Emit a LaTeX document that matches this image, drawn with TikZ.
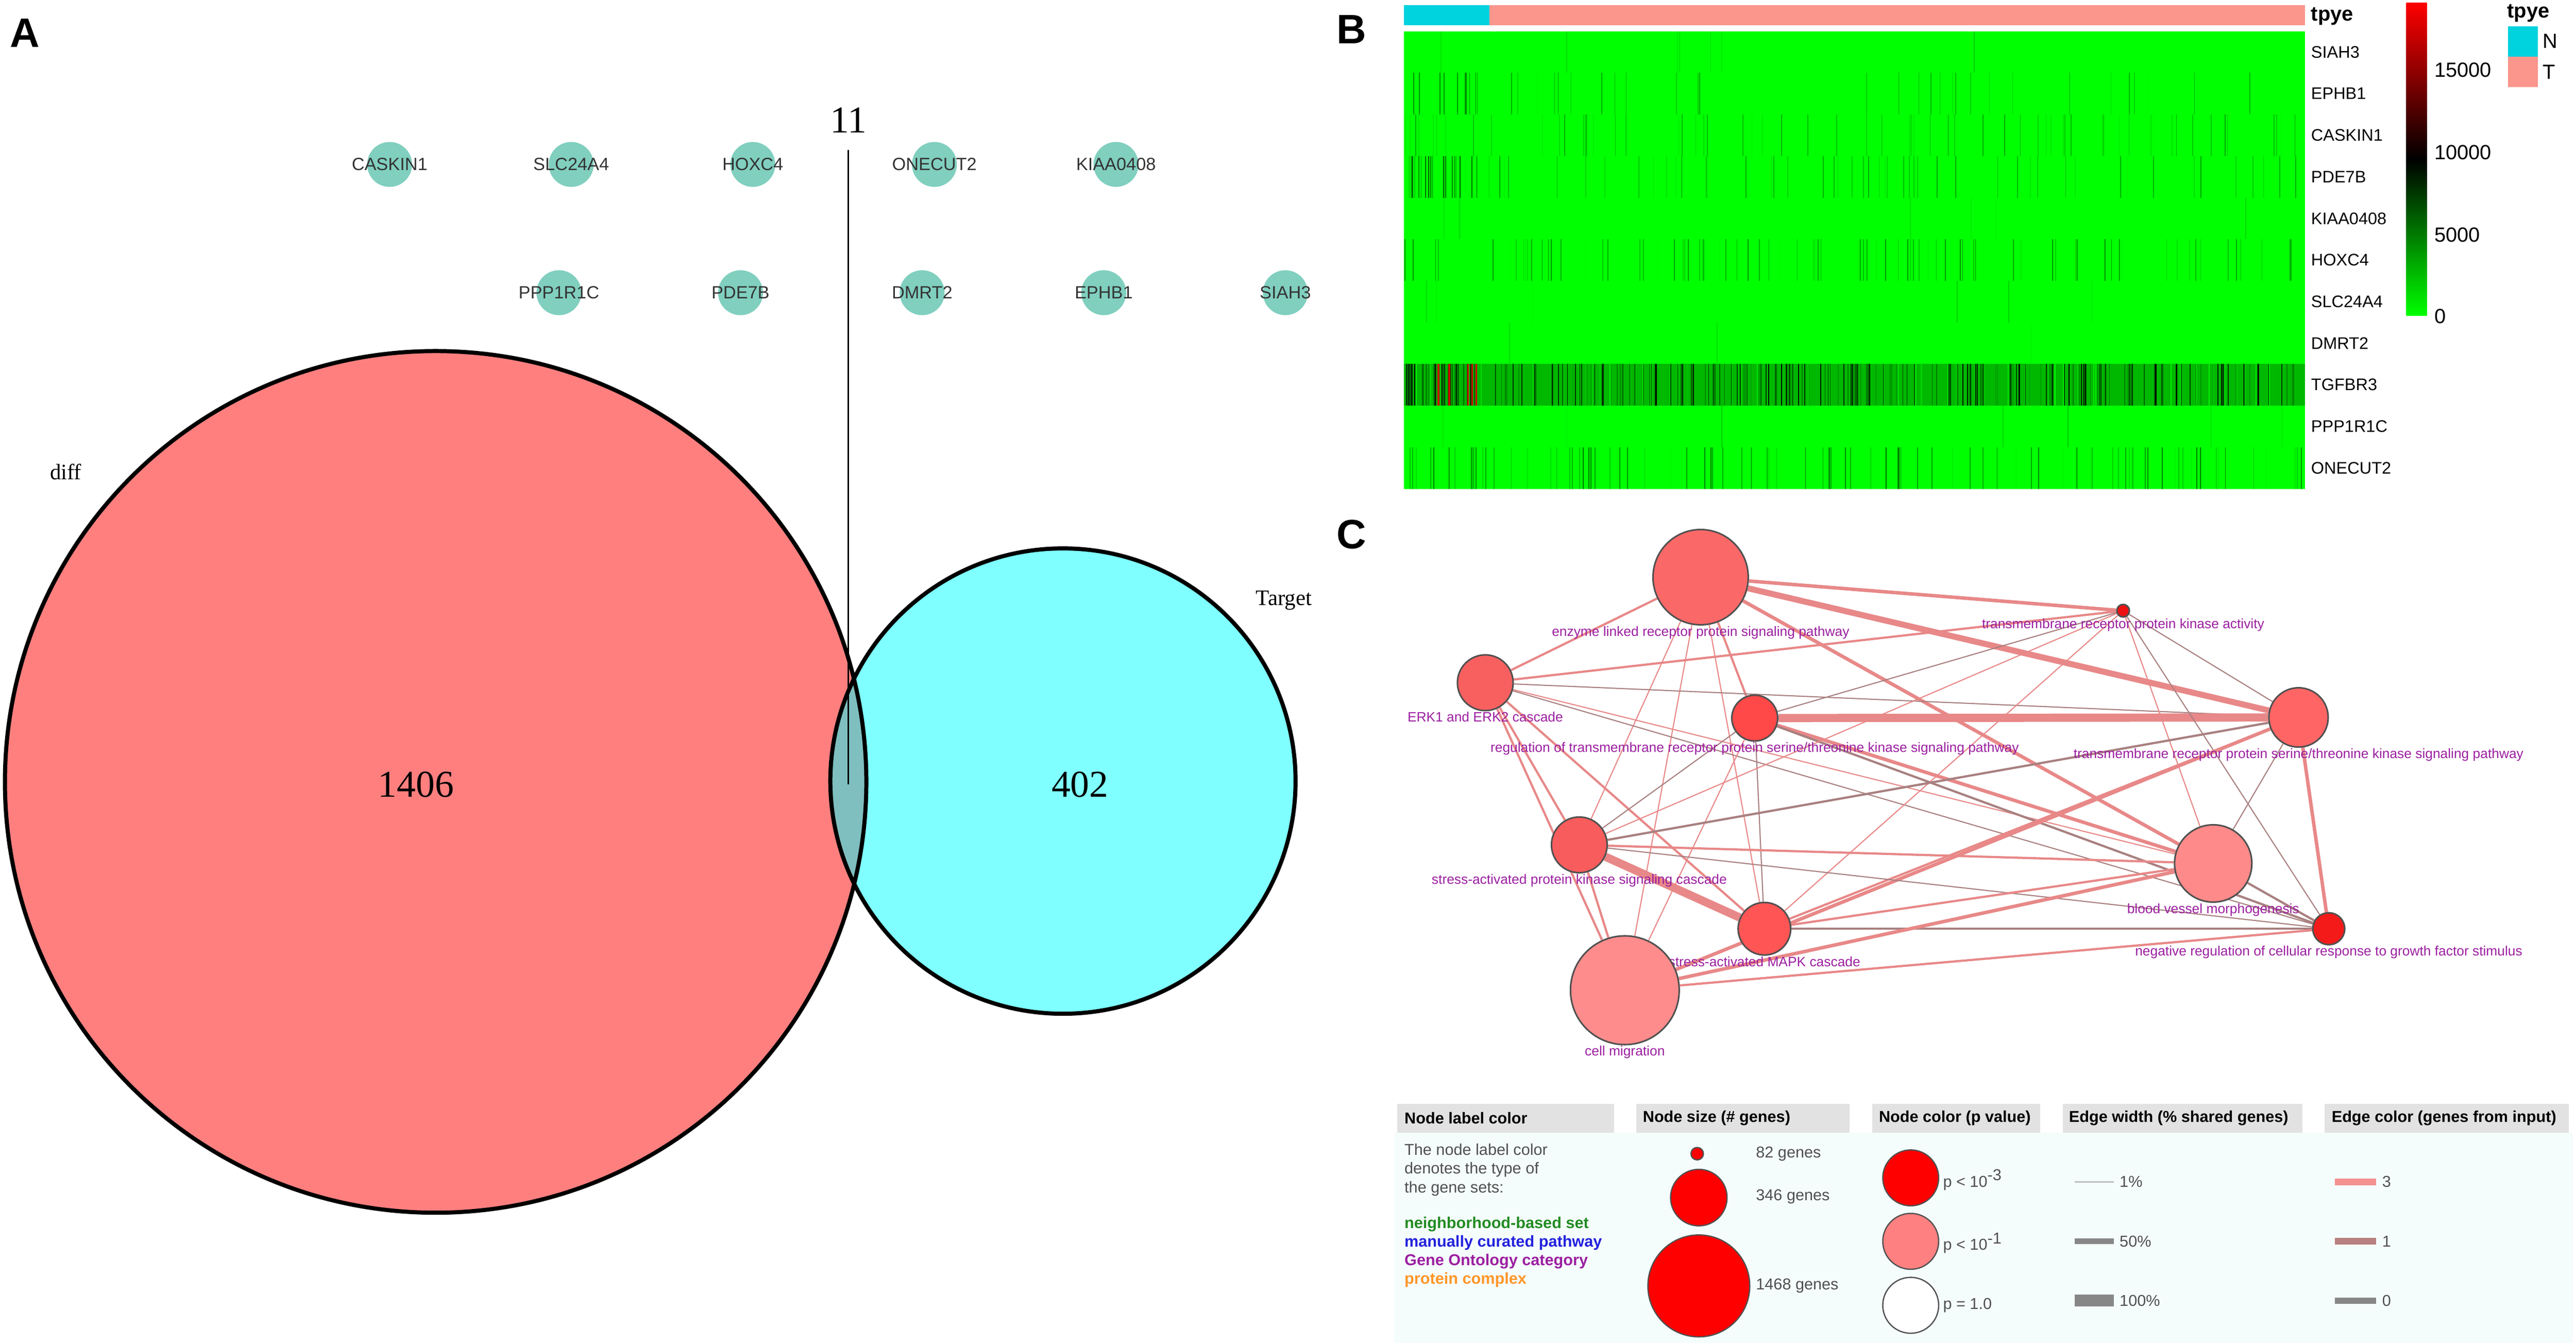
\documentclass[tikz,border=0pt]{standalone}
\usepackage{fontspec}
\setmainfont{Liberation Sans}
\newfontfamily\vennfont{Liberation Serif}
\usetikzlibrary{positioning, backgrounds}

\definecolor{genegreen}{HTML}{80CFBF}
\definecolor{vennred}{HTML}{FF0000}
\definecolor{venncyan}{HTML}{00FFFF}
\definecolor{hmgreen}{HTML}{00FF00}
\definecolor{hmred}{HTML}{FF0000}
\definecolor{ncyan}{HTML}{00D2DE}
\definecolor{tsalmon}{HTML}{FA968C}
\definecolor{gopurple}{HTML}{9B1FA0}
\definecolor{edgepink}{HTML}{E88888}
\definecolor{edgemauve}{HTML}{A98080}
\definecolor{nodeborder}{HTML}{505050}
\definecolor{hdrgray}{HTML}{E2E2E2}
\definecolor{legendbg}{HTML}{F5FCFC}
\definecolor{lgtext}{HTML}{505050}
\definecolor{fenz}{HTML}{FA6868}
\definecolor{ftmk}{HTML}{EE1111}
\definecolor{ferk}{HTML}{F86060}
\definecolor{freg}{HTML}{FF4848}
\definecolor{ftms}{HTML}{FF6565}
\definecolor{fsapk}{HTML}{F85C5C}
\definecolor{fbvm}{HTML}{FF8A8A}
\definecolor{fneg}{HTML}{F41A1A}
\definecolor{fmapk}{HTML}{FF5555}
\definecolor{fmig}{HTML}{FF8C8C}
\definecolor{nbgreen}{HTML}{228B22}
\definecolor{mcblue}{HTML}{2222DD}
\definecolor{pcorange}{HTML}{FF9628}
\definecolor{plight}{HTML}{FF8080}
\definecolor{barpink}{HTML}{F49090}
\definecolor{barmauve}{HTML}{B88080}

\tikzset{
panel/.style={font=\fontsize{13}{13}\selectfont\bfseries}, % the A, B, C letters
node distance=2.021cm, % spacing of the gene dots in a row
gene/.style={circle, fill=genegreen, minimum size=0.5cm, inner sep=0pt}, % teal gene dots
genetext/.style={font=\fontsize{5.6}{6}\selectfont, text=black!80, inner sep=0pt},
vennlbl/.style={font=\vennfont\fontsize{7}{7}\selectfont},
vennnum/.style={font=\vennfont\fontsize{12}{12}\selectfont},
stripe/.style={line width=0.28pt}, % one sample in the heatmap
rowlbl/.style={font=\fontsize{5.3}{6}\selectfont, anchor=west, inner sep=0pt},
hmtext/.style={font=\fontsize{6.5}{7}\selectfont, inner sep=0pt},
gonode/.style={circle, draw=nodeborder, line width=.5pt, inner sep=0pt, label distance=1pt},
golbl/.style={font=\fontsize{4.3}{4.5}\selectfont, text=gopurple, inner sep=0pt},
pk/.style={draw=edgepink}, % edge colour, 3 genes
mv/.style={draw=edgemauve}, % edge colour, 1 gene
w1/.style={line width=.35pt},
w2/.style={line width=.7pt},
w3/.style={line width=1.1pt},
w4/.style={line width=1.9pt},
w5/.style={line width=2.6pt},
hdr/.style={font=\fontsize{5}{6}\selectfont\bfseries, anchor=west, inner sep=0pt},
lgtxt/.style={font=\fontsize{5}{5.9}\selectfont, text=lgtext, anchor=west, inner sep=0pt, align=left},
lgcat/.style={font=\fontsize{5}{6}\selectfont\bfseries, anchor=west, inner sep=0pt},
lgnode/.style={circle, draw=nodeborder, line width=.4pt, inner sep=0pt, fill=red},
}

\begin{document}
\begin{tikzpicture}[x=0.01829cm, y=-0.01829cm]
\useasboundingbox (0,0) rectangle (1567,816.6);

% panel letters
\node[panel] (pA) at (15,20) {A};
\node[panel] (pB) at (822,18) {B};
\node[panel] (pC) at (822,325) {C};

% ---------- A: venn ----------
\fill[vennred, opacity=.5] (265,475.5) circle[radius=262];
\fill[venncyan, opacity=.5] (646.6,475) circle[radius=141.5];
\draw[line width=1.3pt] (265,475.5) circle[radius=262] (646.6,475) circle[radius=141.5];

\node[vennlbl] (diff) at (40,287) {diff};
\node[vennlbl] (target) at (781,365) {Target};
\node[vennnum] (n1406) at (253,477) {1406};
\node[vennnum] (n402) at (657,477) {402};
\node[vennnum] (eleven) at (516,73) {11};
\coordinate (ovl) at (516,477);
\draw[line width=.5pt, shorten <=2pt] (eleven.south) -- (ovl);

\node[gene, label={[genetext]center:CASKIN1}] (caskin) at (237,100) {};
\node[gene, right of=caskin, label={[genetext]center:SLC24A4}] (slc) {};
\node[gene, right of=slc, label={[genetext]center:HOXC4}] (hoxc) {};
\node[gene, right of=hoxc, label={[genetext]center:ONECUT2}] (onecut) {};
\node[gene, right of=onecut, label={[genetext]center:KIAA0408}] (kiaa) {};
\node[gene, label={[genetext]center:PPP1R1C}] (ppp) at (340,178) {};
\node[gene, right of=ppp, label={[genetext]center:PDE7B}] (pde) {};
\node[gene, right of=pde, label={[genetext]center:DMRT2}] (dmrt) {};
\node[gene, right of=dmrt, label={[genetext]center:EPHB1}] (ephb) {};
\node[gene, right of=ephb, label={[genetext]center:SIAH3}] (siah) {};

% ---------- B: heatmap ----------
\fill[ncyan] (854,3) rectangle (906,15.4);
\fill[tsalmon] (906,3) rectangle (1402,15.4);
\node[hmtext, font=\fontsize{6.5}{7}\selectfont\bfseries, anchor=west] (bartitle) at (1405.5,10) {tpye};

\fill[hmgreen] (854,19) rectangle (1402,297.3);
\fill[hmgreen!72!black] (854,221.4) rectangle (1402,246.7);
\pgfmathsetseed{11}
\foreach \i/\n/\m in {0/8/78, 1/30/65, 2/70/68, 3/60/65, 4/8/78, 5/90/60, 6/6/80, 7/3/88, 8/300/0, 9/8/78, 10/100/45}{
  \foreach \k in {1,...,\n}{
    \pgfmathsetmacro{\xx}{854.5+rnd*547}
    \pgfmathsetmacro{\cc}{int(\m+rnd*(100-\m))}
    \draw[stripe, hmgreen!\cc!black] (\xx,19+25.3*\i) -- ++(0,25.3);
  }
}
% darker normal samples
\foreach \i/\n/\m in {1/10/55, 3/16/35, 8/30/0}{
  \foreach \k in {1,...,\n}{
    \pgfmathsetmacro{\xx}{854.5+rnd*44}
    \pgfmathsetmacro{\cc}{int(\m+rnd*(60-\m))}
    \draw[stripe, hmgreen!\cc!black] (\xx,19+25.3*\i) -- ++(0,25.3);
  }
}
\foreach \xx in {875, 881.6, 893, 895.5, 898}
  \draw[stripe, line width=.6pt, hmred!80!black] (\xx,221.4) -- ++(0,25.3);

\foreach \g [count=\i from 0] in {SIAH3, EPHB1, CASKIN1, PDE7B, KIAA0408, HOXC4, SLC24A4, DMRT2, TGFBR3, PPP1R1C, ONECUT2}
  \node[rowlbl] (row\i) at (1405.5,31.65+25.3*\i) {\g};

% colour key
\shade[top color=hmred, bottom color=black] (1463.8,1.6) rectangle (1476.3,97);
\shade[top color=black, bottom color=hmgreen] (1463.8,96.8) rectangle (1476.3,192);
\node[hmtext, anchor=west] (t15) at (1480.5,42.5) {15000};
\node[hmtext, anchor=west] (t10) at (1480.5,92.6) {10000};
\node[hmtext, anchor=west] (t5) at (1480.5,142.8) {5000};
\node[hmtext, anchor=west] (t0) at (1480.5,192.5) {0};

\node[hmtext, font=\fontsize{6.5}{7}\selectfont\bfseries] (legtitle) at (1538,8) {tpye};
\fill[ncyan] (1525.5,16) rectangle (1543.8,34.5);
\fill[tsalmon] (1525.5,34.5) rectangle (1543.8,53);
\node[hmtext, anchor=west] (legN) at (1546.5,25) {N};
\node[hmtext, anchor=west] (legT) at (1546.5,43.7) {T};

% ---------- C: network ----------
\node[gonode, fill=fenz, minimum size=1.06cm, label={[golbl]below:enzyme linked receptor protein signaling pathway}] (enz) at (1034.5,351) {};
\node[gonode, fill=ftmk, minimum size=0.14cm, label={[golbl]below:transmembrane receptor protein kinase activity}] (tmk) at (1291.5,371.4) {};
\node[gonode, fill=ferk, minimum size=0.62cm, label={[golbl]below:ERK1 and ERK2 cascade}] (erk) at (903.5,415.2) {};
\node[gonode, fill=freg, minimum size=0.51cm, label={[golbl]below:regulation of transmembrane receptor protein serine/threonine kinase signaling pathway}] (reg) at (1067.4,436.7) {};
\node[gonode, fill=ftms, minimum size=0.66cm, label={[golbl]below:transmembrane receptor protein serine/threonine kinase signaling pathway}] (tms) at (1398.2,436.3) {};
\node[gonode, fill=fsapk, minimum size=0.62cm, label={[golbl]below:stress-activated protein kinase signaling cascade}] (sapk) at (960.7,513.8) {};
\node[gonode, fill=fbvm, minimum size=0.86cm, label={[golbl]below:blood vessel morphogenesis}] (bvm) at (1346.3,525.1) {};
\node[gonode, fill=fneg, minimum size=0.355cm, label={[golbl]below:negative regulation of cellular response to growth factor stimulus}] (neg) at (1416.6,564.8) {};
\node[gonode, fill=fmapk, minimum size=0.585cm, label={[golbl]below:stress-activated MAPK cascade}] (mapk) at (1073.3,564.8) {};
\node[gonode, fill=fmig, minimum size=1.21cm, label={[golbl]below:cell migration}] (mig) at (988.4,602.2) {};

\begin{scope}[on background layer]
\draw[pk] (enz) edge[w3] (tmk)
  (enz) edge[w4] (tms)
  (enz) edge[w2] (erk)
  (enz) edge[w1] (sapk)
  (enz) edge[w1] (mig)
  (enz) edge[w1] (mapk)
  (enz) edge[w2] (reg)
  (enz) edge[w3] (bvm)
  (erk) edge[w2] (tmk)
  (erk) edge[mv, w1] (tms)
  (erk) edge[w2] (sapk)
  (erk) edge[w2] (mig)
  (erk) edge[w2] (mapk)
  (erk) edge[w1] (bvm)
  (erk) edge[mv, w1] (neg)
  (reg) edge[mv, w1] (tmk)
  (reg) edge[w5] (tms)
  (reg) edge[mv, w1] (sapk)
  (reg) edge[mv, w1] (mapk)
  (reg) edge[w3] (bvm)
  (reg) edge[mv, w2] (neg)
  (reg) edge[w1] (mig)
  (tmk) edge[w1] (sapk)
  (tmk) edge[w1] (mapk)
  (tmk) edge[w1] (bvm)
  (tmk) edge[mv, w1] (neg)
  (tmk) edge[mv, w1] (tms)
  (tms) edge[mv, w2] (sapk)
  (tms) edge[w2] (mapk)
  (tms) edge[w3] (mig)
  (tms) edge[mv, w1] (bvm)
  (tms) edge[w3] (neg)
  (sapk) edge[w2] (bvm)
  (sapk) edge[mv, w1] (neg)
  (sapk) edge[w5] (mapk)
  (sapk) edge[w2] (mig)
  (mapk) edge[w2] (bvm)
  (mapk) edge[mv, w2] (neg)
  (mig) edge[w3] (bvm)
  (mig) edge[w2] (neg)
  (bvm) edge[mv, w2] (neg);
\end{scope}

% ---------- C: legend ----------
\fill[legendbg] (848,689) rectangle (1565,816.6);
\fill[hdrgray] (849.8,671.2) rectangle (982,688.9);
\fill[hdrgray] (995.3,671.2) rectangle (1125.1,688.9);
\fill[hdrgray] (1138.9,671.2) rectangle (1241.2,688.9);
\fill[hdrgray] (1255,671.2) rectangle (1400.5,688.9);
\fill[hdrgray] (1414.2,671.2) rectangle (1562.5,688.9);
\node[hdr] (h1) at (854,680) {Node label color};
\node[hdr] (h2) at (999,680) {Node size (\# genes)};
\node[hdr] (h3) at (1142.6,680) {Node color (p value)};
\node[hdr] (h4) at (1258.2,680) {Edge width (\% shared genes)};
\node[hdr] (h5) at (1418,680) {Edge color (genes from input)};

\node[lgtxt] (ltype) at (854,711.4) {The node label color\\denotes the type of\\the gene sets:};
\node[lgcat, text=nbgreen] (lnb) at (854,744.6) {neighborhood-based set};
\node[lgcat, text=mcblue] (lmc) at (854,755.9) {manually curated pathway};
\node[lgcat, text=gopurple] (lgo) at (854,767.1) {Gene Ontology category};
\node[lgcat, text=pcorange] (lpc) at (854,778.4) {protein complex};

\node[lgnode, minimum size=0.139cm] (s82) at (1032.4,701.6) {};
\node[lgnode, minimum size=0.629cm] (s346) at (1033.4,728.3) {};
\node[lgnode, minimum size=1.134cm] (s1468) at (1033.4,782) {};
\node[lgtxt] (l82) at (1067.8,701.6) {82 genes};
\node[lgtxt] (l346) at (1067.8,727.7) {346 genes};
\node[lgtxt] (l1468) at (1067.8,782) {1468 genes};

\node[lgnode, minimum size=0.622cm] (c3) at (1162.3,716.3) {};
\node[lgnode, minimum size=0.622cm, fill=plight] (c1) at (1162.3,754.9) {};
\node[lgnode, minimum size=0.622cm, fill=white] (c0) at (1162.3,793.8) {};
\node[lgtxt] (lp3) at (1181.6,717.5) {p < 10\textsuperscript{-3}};
\node[lgtxt] (lp1) at (1181.6,755.9) {p < 10\textsuperscript{-1}};
\node[lgtxt] (lp0) at (1181.6,793.8) {p = 1.0};

\fill[black!26] (1261.9,718.2) rectangle (1285.8,719.2);
\fill[black!47] (1261.9,753.1) rectangle (1285.8,756.7);
\fill[black!47] (1261.9,787.4) rectangle (1285.8,794.6);
\node[lgtxt] (lw1) at (1289,718.7) {1\%};
\node[lgtxt] (lw50) at (1289,754.9) {50\%};
\node[lgtxt] (lw100) at (1289,791) {100\%};

\fill[barpink] (1420.2,716.7) rectangle (1445.5,720.7);
\fill[barmauve] (1420.2,752.9) rectangle (1445.5,756.9);
\fill[black!47] (1420.2,789) rectangle (1445.5,793);
\node[lgtxt] (le3) at (1448.7,718.7) {3};
\node[lgtxt] (le1) at (1448.7,754.9) {1};
\node[lgtxt] (le0) at (1448.7,791) {0};
\end{tikzpicture}
\end{document}
